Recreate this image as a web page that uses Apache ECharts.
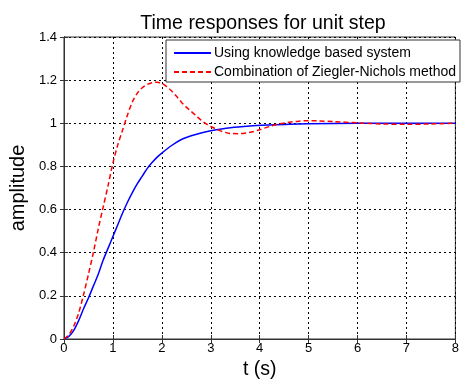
<!DOCTYPE html>
<html>
<head>
<meta charset="utf-8">
<script src="https://cdn.jsdelivr.net/npm/echarts@6/dist/echarts.min.js"></script>
<style>
  html, body { margin: 0; padding: 0; background: #fff; }
  #chart { width: 462px; height: 385px; }
</style>
</head>
<body>
<div id="chart"></div>
<script>
// time (s) and amplitude values
const kbsTime = [0, 0.1, 0.2, 0.3, 0.4, 0.5, 0.6, 0.7, 0.8, 0.9, 1.0, 1.1, 1.2, 1.3, 1.4, 1.5, 1.6, 1.7, 1.8, 1.9, 2.0, 2.2, 2.4, 2.6, 2.8, 3.0, 3.4, 3.8, 4.2, 4.6, 5.0, 6.0, 7.0, 8.0];
const kbsAmp  = [0, 0.012, 0.04, 0.085, 0.14, 0.19, 0.245, 0.30, 0.365, 0.42, 0.475, 0.53, 0.585, 0.635, 0.68, 0.72, 0.755, 0.79, 0.818, 0.842, 0.862, 0.897, 0.925, 0.942, 0.955, 0.965, 0.979, 0.987, 0.992, 0.996, 0.998, 1.0, 1.0, 1.0];

const znTime = [0, 0.1, 0.2, 0.3, 0.4, 0.5, 0.6, 0.7, 0.8, 0.9, 1.0, 1.1, 1.2, 1.3, 1.4, 1.5, 1.6, 1.7, 1.8, 1.9, 2.0, 2.1, 2.2, 2.3, 2.4, 2.5, 2.6, 2.7, 2.8, 2.9, 3.0, 3.2, 3.4, 3.6, 3.8, 4.0, 4.2, 4.4, 4.6, 4.8, 5.0, 5.2, 5.5, 6.0, 6.5, 7.0, 7.5, 8.0];
const znAmp  = [0, 0.02, 0.06, 0.12, 0.205, 0.30, 0.40, 0.51, 0.61, 0.71, 0.815, 0.90, 0.97, 1.04, 1.10, 1.14, 1.165, 1.18, 1.188, 1.19, 1.185, 1.17, 1.15, 1.125, 1.098, 1.075, 1.055, 1.035, 1.015, 0.998, 0.985, 0.965, 0.953, 0.952, 0.958, 0.97, 0.985, 0.997, 1.005, 1.01, 1.012, 1.011, 1.008, 1.002, 0.997, 0.995, 0.997, 1.0];

const seriesNames = ['Using knowledge based system', 'Combination of Ziegler-Nichols method'];

const pairs = (xs, ys) => xs.map((x, i) => [x, ys[i]]);

const myChart = echarts.init(document.getElementById('chart'));

const font = 'Liberation Sans, Arial, sans-serif';
const gridLine = {show: true, lineStyle: {color: '#000', type: [2, 3], width: 1}};
const frameTick = {show: true, inside: true, length: 4, lineStyle: {color: '#333'}};

myChart.setOption({
    animation: false,
    textStyle: {fontFamily: font, color: '#000'},
    title: {
        text: 'Time responses for unit step',
        left: 258,
        textAlign: 'center',
        top: 9,
        textStyle: {fontSize: 19.5, fontWeight: 'normal', color: '#000', fontFamily: font}
    },
    grid: {left: 62, right: 6, top: 37, bottom: 42, show: true, borderColor: '#333', borderWidth: 1},
    legend: {
        left: 166,
        top: 40,
        orient: 'vertical',
        data: seriesNames,
        backgroundColor: '#fff',
        borderColor: '#333',
        borderWidth: 1,
        borderRadius: 0,
        padding: [6, 4, 3, 7],
        itemGap: 5,
        itemWidth: 37,
        itemHeight: 14,
        itemStyle: {opacity: 0},
        textStyle: {fontSize: 14, color: '#000', fontFamily: font, padding: [0, 0, 0, -2]}
    },
    xAxis: [{
        type: 'value',
        min: 0, max: 8, interval: 1,
        name: 't (s)',
        nameLocation: 'middle',
        nameGap: 21,
        nameTextStyle: {fontSize: 19.5, color: '#000', fontFamily: font},
        axisLine: {show: true, lineStyle: {color: '#333'}},
        axisTick: frameTick,
        axisLabel: {fontSize: 13, color: '#000', margin: 3, fontFamily: font},
        splitLine: gridLine
    }, {
        type: 'value',
        position: 'top',
        min: 0, max: 8, interval: 1,
        axisLine: {show: true, lineStyle: {color: '#333'}},
        axisTick: frameTick,
        axisLabel: {show: false},
        splitLine: {show: false}
    }],
    yAxis: [{
        type: 'value',
        min: 0, max: 1.4, interval: 0.2,
        name: 'amplitude',
        nameLocation: 'middle',
        nameGap: 30,
        nameTextStyle: {fontSize: 20, color: '#000', fontFamily: font},
        axisLine: {show: true, lineStyle: {color: '#333'}},
        axisTick: frameTick,
        axisLabel: {fontSize: 13, color: '#000', margin: 7, fontFamily: font},
        splitLine: gridLine
    }, {
        type: 'value',
        position: 'right',
        min: 0, max: 1.4, interval: 0.2,
        axisLine: {show: true, lineStyle: {color: '#333'}},
        axisTick: frameTick,
        axisLabel: {show: false},
        splitLine: {show: false}
    }],
    series: [
        {
            name: seriesNames[0],
            type: 'line',
            smooth: 0.3,
            symbol: 'none',
            data: pairs(kbsTime, kbsAmp),
            lineStyle: {color: '#0000ff', width: 1.5},
            itemStyle: {color: '#0000ff'},
            z: 3
        },
        {
            name: seriesNames[1],
            type: 'line',
            smooth: 0.3,
            symbol: 'none',
            data: pairs(znTime, znAmp),
            lineStyle: {color: '#ff0000', width: 1.5, type: [5, 3]},
            itemStyle: {color: '#ff0000'},
            z: 4
        }
    ]
});
</script>
</body>
</html>
